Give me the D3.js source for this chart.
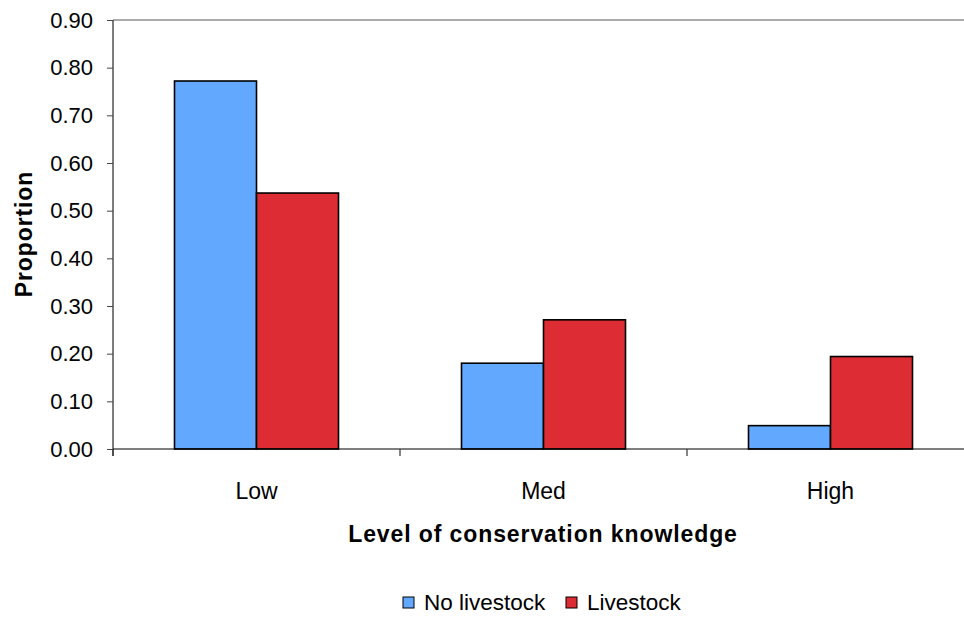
<!DOCTYPE html>
<html>
<head>
<meta charset="utf-8">
<script src="https://cdn.jsdelivr.net/npm/d3@7"></script>
<style>
  html, body { margin: 0; padding: 0; background: #fff; }
  svg { display: block; font-family: "Liberation Sans", Arial, sans-serif; }
</style>
</head>
<body>
<svg id="chart" width="964" height="617"></svg>
<script>
// Proportion of respondents by level of conservation knowledge
const categories = ["Low", "Med", "High"];
const seriesNames = ["No livestock", "Livestock"];
const noLivestock = [0.772, 0.180, 0.049];
const livestock = [0.537, 0.271, 0.194];
const yTicks = [0, 0.1, 0.2, 0.3, 0.4, 0.5, 0.6, 0.7, 0.8, 0.9];
const colors = ["#62A8FF", "#DD2C33"];

const svg = d3.select("#chart");
const plot = { left: 113, top: 20, right: 974, bottom: 449 };

const x = d3.scaleBand().domain(categories).range([plot.left, plot.right]).paddingInner(0).paddingOuter(0);
const inner = d3.scaleBand().domain(seriesNames).range([0, x.bandwidth()]).paddingInner(0).paddingOuter(0.75);
const y = d3.scaleLinear().domain([0, 0.9]).range([plot.bottom, plot.top]);

// plot frame top edge
svg.append("line")
  .attr("x1", plot.left).attr("x2", plot.right)
  .attr("y1", plot.top).attr("y2", plot.top)
  .attr("stroke", "#555").attr("stroke-width", 1);

// bars
const rows = categories.map((c, i) => ({ cat: c, vals: [noLivestock[i], livestock[i]] }));
const groups = svg.append("g").selectAll("g").data(rows).join("g")
  .attr("transform", d => `translate(${x(d.cat)},0)`);
groups.selectAll("rect")
  .data(d => d.vals.map((v, j) => ({ name: seriesNames[j], v, j })))
  .join("rect")
  .attr("x", d => inner(d.name))
  .attr("width", inner.bandwidth())
  .attr("y", d => y(d.v))
  .attr("height", d => y(0) - y(d.v))
  .attr("fill", d => colors[d.j])
  .attr("stroke", "#000").attr("stroke-width", 1.6);

// y axis
const yAxis = d3.axisLeft(y).tickValues(yTicks).tickFormat(d3.format(".2f")).tickSize(6).tickPadding(14);
const gy = svg.append("g").attr("transform", `translate(${plot.left},0)`).call(yAxis);
gy.select(".domain").attr("stroke", "#444").attr("stroke-width", 1.4).attr("d", `M0,${plot.top}V${plot.bottom + 7}`);
gy.selectAll(".tick line").attr("stroke", "#444");
gy.selectAll("text").attr("font-size", 22).attr("fill", "#000")
  .attr("font-family", "'Liberation Sans', Arial, sans-serif");

// x axis with ticks at category boundaries
const gx = svg.append("g").attr("transform", `translate(0,${plot.bottom})`);
gx.append("line").attr("x1", plot.left).attr("x2", plot.right).attr("y1", 0).attr("y2", 0)
  .attr("stroke", "#000").attr("stroke-width", 1.2);
const bounds = categories.map(c => x(c)).concat([plot.right]);
gx.selectAll("line.tk").data(bounds).join("line").attr("class", "tk")
  .attr("x1", d => d).attr("x2", d => d).attr("y1", 0).attr("y2", 7)
  .attr("stroke", "#333").attr("stroke-width", 1.2);
gx.selectAll("text").data(categories).join("text")
  .attr("x", d => x(d) + x.bandwidth() / 2).attr("y", 50)
  .attr("text-anchor", "middle").attr("font-size", 23).attr("fill", "#000")
  .text(d => d);

// axis titles
svg.append("text")
  .attr("x", 543).attr("y", 542)
  .attr("text-anchor", "middle").attr("font-size", 23).attr("font-weight", "bold")
  .attr("letter-spacing", 0.9)
  .text("Level of conservation knowledge");
svg.append("text")
  .attr("transform", "translate(32,234) rotate(-90)")
  .attr("text-anchor", "middle").attr("font-size", 23).attr("font-weight", "bold")
  .attr("letter-spacing", 0.9)
  .text("Proportion");

// legend
const legend = svg.append("g").attr("transform", "translate(403,597)");
const legendX = [0, 163];
seriesNames.forEach((name, j) => {
  const g = legend.append("g").attr("transform", `translate(${legendX[j]},0)`);
  g.append("rect").attr("x", 0).attr("y", 0).attr("width", 11).attr("height", 11)
    .attr("fill", colors[j]).attr("stroke", "#000").attr("stroke-width", 1);
  g.append("text").attr("x", 21).attr("y", 13).attr("font-size", 22.5).attr("fill", "#000").text(name);
});
</script>
</body>
</html>
